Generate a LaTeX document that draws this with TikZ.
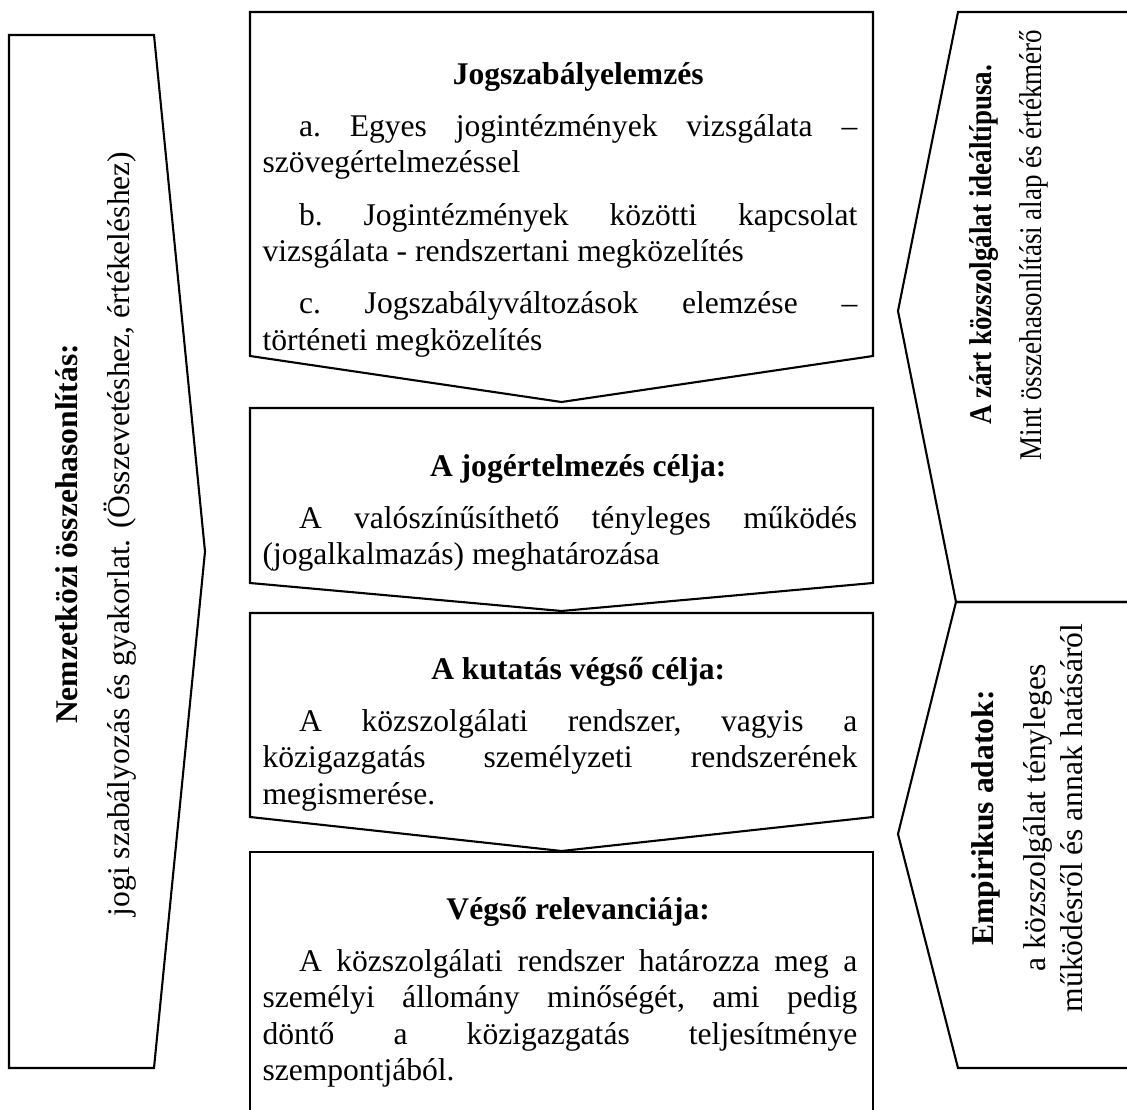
\documentclass[tikz,border=0pt]{standalone}
\usepackage{fontspec}
\setmainfont{Liberation Serif}
\newfontfamily\narrowserif[FakeStretch=0.855]{Liberation Serif}

\newcommand{\boxtitle}[1]{{\centering\hspace*{13.9pt}\textbf{#1}\par}}

\tikzset{
  outline/.style={draw, line width=0.8pt, line join=miter},
  boxtext/.style={anchor=base west, inner sep=0pt, text width=226pt, align=justify,
    font=\fontsize{12}{13.87}\selectfont,
    execute at begin node={\frenchspacing\setlength{\parindent}{13.9pt}\setlength{\parskip}{6pt}\hbadness=10000 \hfuzz=3pt}},
  sidetext/.style={rotate=90, inner sep=0pt, align=center, font=\fontsize{12}{13.87}\selectfont}
}

\begin{document}
\begin{tikzpicture}[x=0.38pt, y=-0.38pt]
    \useasboundingbox (0,0) rectangle (1127,1110);
    \clip (0,0) rectangle (1127,1110);

    % Left arrow (pointing right)
    \draw[outline] (9,35) -- (154,35) -- (205,551.5) -- (154,1068) -- (9,1068) -- cycle;
    \node[sidetext] (nemzetkozi) at (96,534)
        {\textbf{Nemzetközi összehasonlítás:}\\[6pt]
         jogi szabályozás és gyakorlat. (Összevetéshez, értékeléshez)};

    % Middle column: boxes pointing down
    \foreach \boxtop/\boxbot/\boxtip in {12/356/402, 408/583/611, 613/817/851} {
        \draw[outline] (250,\boxtop) -- (873,\boxtop) -- (873,\boxbot) -- (561.5,\boxtip) -- (250,\boxbot) -- cycle;
    }
    % last box runs off the page
    \draw[outline] (250,1130) -- (250,852) -- (873,852) -- (873,1130);

    \node[boxtext] (jogelemzes) at (262,84)
        {\boxtitle{Jogszabályelemzés}
         a. Egyes jogintézmények vizsgálata –\linebreak szövegértelmezéssel\par
         b. Jogintézmények közötti kapcsolat\linebreak vizsgálata - rendszertani megközelítés\par
         c. Jogszabályváltozások elemzése –\linebreak történeti megközelítés};

    \node[boxtext] (jogcel) at (262,476)
        {\boxtitle{A jogértelmezés célja:}
         A valószínűsíthető tényleges működés\linebreak (jogalkalmazás) meghatározása};

    \node[boxtext] (kutatascel) at (262,679)
        {\boxtitle{A kutatás végső célja:}
         A közszolgálati rendszer, vagyis a\linebreak közigazgatás személyzeti rendszerének\linebreak megismerése.};

    \node[boxtext] (relevancia) at (262,919)
        {\boxtitle{Végső relevanciája:}
         A közszolgálati rendszer határozza meg a\linebreak személyi állomány minőségét, ami pedig\linebreak döntő a közigazgatás teljesítménye\linebreak szempontjából.};

    % Right column: arrows pointing left
    \draw[outline] (1140,12) -- (958,12) -- (898,311) -- (956,602) -- (1140,602);
    \draw[outline] (1140,602) -- (956,602) -- (898,834) -- (958,1068) -- (1140,1068);

    \node[sidetext, font=\narrowserif\fontsize{12}{12.8}\selectfont] (idealtipus) at (1009,245)
        {\textbf{A zárt közszolgálat ideáltípusa.}\\[6pt]
         Mint összehasonlítási alap és értékmérő};
    \node[sidetext] (empirikus) at (1027,818)
        {\textbf{Empirikus adatok:}\\[6pt]
         a közszolgálat tényleges\\
         működésről és annak hatásáról};
\end{tikzpicture}
\end{document}
